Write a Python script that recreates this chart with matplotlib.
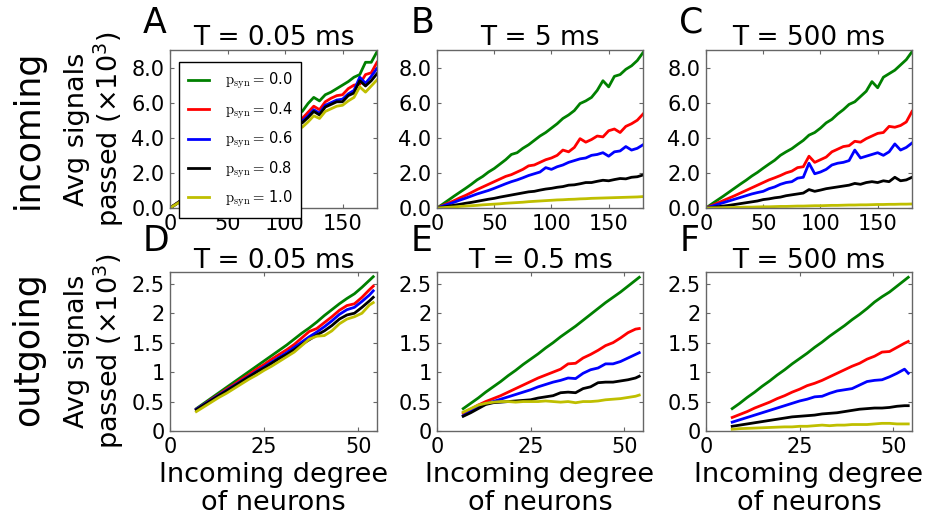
import numpy as np
import matplotlib
matplotlib.use("Agg")
import matplotlib.pyplot as plt
from matplotlib.font_manager import FontProperties
from matplotlib.ticker import FormatStrFormatter, FuncFormatter

# x axes: incoming degree
deg_in = [0, 5, 10, 15, 20, 25, 30, 35, 40, 45, 50, 55, 60, 65, 70, 75, 80, 85, 90,
          95, 100, 105, 110, 115, 120, 125, 130, 135, 140, 145, 150, 155, 160, 165,
          170, 175, 180]
deg_out = [7, 9, 11, 13, 15, 17, 19, 21, 23, 25, 27, 29, 31, 33, 35, 37, 39, 41, 43,
           45, 47, 49, 51, 53, 54]

p_syn = ["0.0", "0.4", "0.6", "0.8", "1.0"]
colors = ["g", "r", "b", "k", "y"]

# A: incoming, T = 0.05 ms  (x1000 signals)
inc_a_00 = [0, 0.23, 0.46, 0.7, 0.93, 1.17, 1.4, 1.63, 1.87, 2.1, 2.35, 2.6, 2.85, 3.1, 3.35,
            3.55, 3.85, 4.05, 4.35, 4.55, 4.85, 5.1, 5.4, 5.5, 5.95, 6.3, 6.1, 6.45, 6.6,
            6.8, 7.0, 7.2, 7.45, 7.6, 8.3, 8.3, 8.9]
inc_a_04 = [0, 0.22, 0.44, 0.67, 0.9, 1.12, 1.34, 1.56, 1.78, 2.0, 2.22, 2.45, 2.68, 2.9, 3.12,
            3.35, 3.6, 3.8, 4.05, 4.25, 4.5, 4.75, 5.05, 5.1, 5.45, 5.8, 5.6, 6.05, 6.25,
            6.4, 6.45, 6.8, 7.0, 7.05, 7.6, 7.7, 8.3]
inc_a_06 = [0, 0.21, 0.43, 0.65, 0.87, 1.09, 1.3, 1.52, 1.74, 1.95, 2.17, 2.4, 2.62, 2.84, 3.05,
            3.27, 3.5, 3.7, 3.95, 4.15, 4.4, 4.6, 4.9, 4.95, 5.25, 5.6, 5.4, 5.85, 6.0,
            6.15, 6.2, 6.5, 6.7, 7.45, 7.1, 7.5, 7.95]
inc_a_08 = [0, 0.21, 0.42, 0.63, 0.85, 1.06, 1.27, 1.48, 1.7, 1.9, 2.12, 2.34, 2.56, 2.77, 2.98,
            3.2, 3.42, 3.62, 3.85, 4.05, 4.3, 4.5, 4.8, 4.85, 5.15, 5.5, 5.3, 5.75, 5.9,
            6.05, 6.05, 6.4, 6.55, 7.25, 6.95, 7.25, 7.65]
inc_a_10 = [0, 0.2, 0.4, 0.6, 0.81, 1.01, 1.21, 1.41, 1.62, 1.82, 2.02, 2.23, 2.44, 2.64, 2.84,
            3.05, 3.25, 3.45, 3.65, 3.85, 4.1, 4.3, 4.55, 4.6, 4.9, 5.25, 5.1, 5.5, 5.65,
            5.8, 5.85, 6.1, 6.3, 6.9, 6.6, 6.95, 7.3]

# B: incoming, T = 5 ms
inc_b_00 = [0, 0.22, 0.45, 0.68, 0.9, 1.12, 1.35, 1.6, 1.8, 2.05, 2.25, 2.5, 2.75, 3.05, 3.15,
            3.4, 3.6, 3.85, 4.1, 4.3, 4.55, 4.8, 5.1, 5.3, 5.55, 5.95, 6.1, 6.3, 6.7,
            7.25, 6.9, 7.5, 7.6, 7.9, 8.1, 8.4, 8.85]
inc_b_04 = [0, 0.14, 0.28, 0.42, 0.58, 0.72, 0.88, 1.05, 1.2, 1.35, 1.5, 1.65, 1.8, 1.9, 2.05,
            2.2, 2.4, 2.45, 2.6, 2.75, 2.85, 3.0, 3.3, 3.2, 3.45, 3.95, 3.75, 3.9, 4.1,
            4.05, 4.4, 4.5, 4.3, 4.65, 4.8, 5.0, 5.35]
inc_b_06 = [0, 0.11, 0.22, 0.33, 0.45, 0.56, 0.68, 0.8, 0.9, 1.0, 1.12, 1.25, 1.38, 1.5, 1.6,
            1.72, 1.85, 1.95, 2.05, 2.3, 2.2, 2.35, 2.45, 2.6, 2.7, 2.8, 2.85, 3.0, 3.05,
            3.15, 2.95, 3.2, 3.25, 3.5, 3.3, 3.4, 3.6]
inc_b_08 = [0, 0.05, 0.1, 0.16, 0.21, 0.27, 0.32, 0.38, 0.44, 0.5, 0.55, 0.62, 0.68, 0.74, 0.8,
            0.86, 0.92, 0.95, 1.02, 1.08, 1.12, 1.18, 1.22, 1.3, 1.32, 1.38, 1.45, 1.45, 1.52,
            1.58, 1.55, 1.62, 1.68, 1.66, 1.75, 1.78, 1.88]
inc_b_10 = [0, 0.02, 0.04, 0.06, 0.09, 0.11, 0.13, 0.15, 0.18, 0.2, 0.22, 0.24, 0.27, 0.29, 0.31,
            0.33, 0.36, 0.38, 0.4, 0.42, 0.44, 0.46, 0.47, 0.49, 0.5, 0.52, 0.53, 0.55, 0.56,
            0.57, 0.58, 0.59, 0.6, 0.61, 0.62, 0.63, 0.65]

# C: incoming, T = 500 ms
inc_c_00 = [0, 0.23, 0.45, 0.67, 0.9, 1.13, 1.36, 1.58, 1.82, 2.03, 2.27, 2.5, 2.72, 3.0, 3.2,
            3.38, 3.62, 3.85, 4.15, 4.3, 4.55, 4.85, 5.05, 5.35, 5.6, 5.9, 6.05, 6.35, 6.65,
            7.2, 6.85, 7.45, 7.65, 7.85, 8.15, 8.45, 8.9]
inc_c_04 = [0, 0.14, 0.28, 0.42, 0.56, 0.7, 0.85, 1.0, 1.15, 1.3, 1.45, 1.6, 1.72, 1.85, 2.0,
            2.1, 2.3, 2.35, 2.95, 2.6, 2.75, 2.9, 3.2, 3.35, 3.5, 3.55, 3.8, 3.75, 3.95,
            4.1, 4.25, 4.3, 4.65, 4.6, 4.7, 4.9, 5.5]
inc_c_06 = [0, 0.1, 0.2, 0.3, 0.4, 0.5, 0.6, 0.7, 0.8, 0.88, 0.95, 1.1, 1.2, 1.35, 1.45,
            1.5, 1.7, 1.75, 2.55, 1.95, 2.05, 2.2, 2.45, 2.55, 2.6, 2.7, 3.3, 2.85, 2.95,
            3.05, 3.15, 3.0, 3.2, 3.65, 3.3, 3.45, 3.7]
inc_c_08 = [0, 0.03, 0.07, 0.11, 0.15, 0.2, 0.25, 0.3, 0.35, 0.4, 0.48, 0.52, 0.58, 0.62, 0.7,
            0.75, 0.8, 0.85, 1.05, 0.95, 1.02, 1.1, 1.15, 1.2, 1.25, 1.3, 1.4, 1.35, 1.45,
            1.5, 1.45, 1.55, 1.5, 1.75, 1.55, 1.6, 1.75]
inc_c_10 = [0, 0.01, 0.01, 0.02, 0.03, 0.03, 0.04, 0.05, 0.05, 0.06, 0.07, 0.07, 0.08, 0.09,
            0.09, 0.1, 0.11, 0.11, 0.12, 0.13, 0.13, 0.14, 0.15, 0.15, 0.16, 0.17, 0.17, 0.18,
            0.18, 0.19, 0.2, 0.2, 0.21, 0.21, 0.22, 0.22, 0.23]

# D: outgoing, T = 0.05 ms
out_d_00 = [0.38, 0.47, 0.56, 0.65, 0.74, 0.83, 0.92, 1.01, 1.1, 1.19, 1.28, 1.37, 1.46, 1.56,
            1.66, 1.75, 1.85, 1.96, 2.06, 2.16, 2.25, 2.33, 2.44, 2.56, 2.62]
out_d_04 = [0.37, 0.45, 0.54, 0.62, 0.71, 0.79, 0.88, 0.96, 1.05, 1.13, 1.22, 1.3, 1.38, 1.47,
            1.58, 1.69, 1.74, 1.84, 1.94, 2.05, 2.13, 2.16, 2.27, 2.4, 2.46]
out_d_06 = [0.37, 0.45, 0.53, 0.61, 0.69, 0.77, 0.85, 0.93, 1.01, 1.09, 1.17, 1.25, 1.33, 1.42,
            1.51, 1.6, 1.68, 1.77, 1.87, 1.98, 2.06, 2.1, 2.2, 2.31, 2.38]
out_d_08 = [0.36, 0.44, 0.52, 0.6, 0.68, 0.76, 0.84, 0.92, 1.0, 1.07, 1.15, 1.23, 1.3, 1.38,
            1.47, 1.55, 1.63, 1.7, 1.79, 1.9, 1.97, 2.0, 2.1, 2.21, 2.27]
out_d_10 = [0.33, 0.41, 0.49, 0.57, 0.64, 0.72, 0.8, 0.88, 0.95, 1.03, 1.1, 1.18, 1.26, 1.34,
            1.45, 1.56, 1.61, 1.62, 1.7, 1.82, 1.9, 1.94, 2.0, 2.14, 2.18]

# E: outgoing, T = 0.5 ms
out_e_00 = [0.38, 0.47, 0.56, 0.66, 0.75, 0.84, 0.94, 1.03, 1.13, 1.22, 1.31, 1.41, 1.5, 1.6,
            1.69, 1.78, 1.88, 1.98, 2.08, 2.18, 2.27, 2.36, 2.46, 2.56, 2.61]
out_e_04 = [0.3, 0.37, 0.44, 0.5, 0.55, 0.6, 0.66, 0.72, 0.78, 0.84, 0.9, 0.95, 1.0, 1.05,
            1.14, 1.15, 1.24, 1.3, 1.37, 1.45, 1.5, 1.58, 1.67, 1.73, 1.74]
out_e_06 = [0.26, 0.33, 0.4, 0.46, 0.5, 0.54, 0.58, 0.62, 0.66, 0.7, 0.75, 0.79, 0.83, 0.86,
            0.9, 0.89, 0.98, 1.04, 1.07, 1.14, 1.14, 1.18, 1.24, 1.3, 1.33]
out_e_08 = [0.25, 0.31, 0.38, 0.45, 0.48, 0.49, 0.5, 0.51, 0.52, 0.53, 0.56, 0.58, 0.6, 0.65,
            0.66, 0.65, 0.72, 0.75, 0.82, 0.83, 0.83, 0.85, 0.87, 0.9, 0.93]
out_e_10 = [0.32, 0.38, 0.44, 0.47, 0.49, 0.5, 0.5, 0.49, 0.5, 0.5, 0.5, 0.51, 0.5, 0.49,
            0.5, 0.48, 0.5, 0.5, 0.51, 0.53, 0.54, 0.55, 0.57, 0.59, 0.61]

# F: outgoing, T = 500 ms
out_f_00 = [0.38, 0.47, 0.57, 0.66, 0.76, 0.85, 0.95, 1.04, 1.14, 1.23, 1.32, 1.42, 1.51, 1.61,
            1.7, 1.79, 1.89, 1.98, 2.08, 2.19, 2.28, 2.36, 2.46, 2.56, 2.61]
out_f_04 = [0.23, 0.28, 0.33, 0.39, 0.44, 0.49, 0.55, 0.6, 0.66, 0.71, 0.77, 0.81, 0.86, 0.92,
            0.98, 1.04, 1.1, 1.15, 1.22, 1.27, 1.34, 1.35, 1.42, 1.49, 1.52]
out_f_06 = [0.15, 0.19, 0.23, 0.27, 0.31, 0.35, 0.39, 0.43, 0.47, 0.51, 0.54, 0.58, 0.59, 0.64,
            0.68, 0.7, 0.72, 0.78, 0.84, 0.86, 0.87, 0.92, 0.98, 1.05, 0.98]
out_f_08 = [0.08, 0.1, 0.12, 0.14, 0.16, 0.18, 0.2, 0.22, 0.24, 0.25, 0.26, 0.27, 0.29, 0.3,
            0.31, 0.33, 0.35, 0.37, 0.38, 0.39, 0.39, 0.4, 0.42, 0.43, 0.43]
out_f_10 = [0.03, 0.04, 0.045, 0.05, 0.055, 0.06, 0.065, 0.07, 0.07, 0.08, 0.08, 0.09, 0.1,
            0.09, 0.1, 0.1, 0.11, 0.11, 0.11, 0.12, 0.13, 0.13, 0.12, 0.12, 0.12]

panels = [
    ("A", "T = 0.05 ms", deg_in, [inc_a_00, inc_a_04, inc_a_06, inc_a_08, inc_a_10]),
    ("B", "T = 5 ms", deg_in, [inc_b_00, inc_b_04, inc_b_06, inc_b_08, inc_b_10]),
    ("C", "T = 500 ms", deg_in, [inc_c_00, inc_c_04, inc_c_06, inc_c_08, inc_c_10]),
    ("D", "T = 0.05 ms", deg_out, [out_d_00, out_d_04, out_d_06, out_d_08, out_d_10]),
    ("E", "T = 0.5 ms", deg_out, [out_e_00, out_e_04, out_e_06, out_e_08, out_e_10]),
    ("F", "T = 500 ms", deg_out, [out_f_00, out_f_04, out_f_06, out_f_08, out_f_10]),
]

W, H = 927, 521
fig = plt.figure(figsize=(W / 100, H / 100), dpi=100)

# axes boxes in pixels (left, right, top, bottom)
cols = [(170, 377), (437, 643), (706, 912)]
rows = [(50, 208), (272, 431)]

for i, (letter, title, xs, series) in enumerate(panels):
    r, c = divmod(i, 3)
    l, rr = cols[c]
    t, b = rows[r]
    ax = fig.add_axes([l / W, 1 - b / H, (rr - l) / W, (b - t) / H])
    for ys, col, p in zip(series, colors, p_syn):
        ax.plot(xs, ys, color=col, lw=2, label=r"$\mathrm{p_{syn}}=\,$" + p)

    if r == 0:
        ax.set_xlim(0, 180)
        ax.set_ylim(0, 9)
        ax.set_xticks([0, 50, 100, 150])
        ax.set_yticks([0, 2, 4, 6, 8])
        ax.yaxis.set_major_formatter(FormatStrFormatter("%.1f"))
        ax.set_title(title, fontsize=19, pad=3.5)
    else:
        ax.set_xlim(0, 55)
        ax.set_ylim(0, 2.7)
        ax.set_xticks([0, 25, 50])
        ax.set_yticks([0, 0.5, 1, 1.5, 2, 2.5])
        ax.yaxis.set_major_formatter(FuncFormatter(lambda v, pos: "%g" % v))
        ax.set_title(title, fontsize=19, pad=3)
        ax.set_xlabel("Incoming degree\nof neurons", fontsize=19.5, linespacing=1.1)

    ax.tick_params(direction="in", top=True, right=True, length=3, width=0.8,
                   color="0.4", labelsize=15, pad=4)
    for s in ax.spines.values():
        s.set_color("0.4")
        s.set_linewidth(1)

    if c == 0:
        ax.set_ylabel("Avg signals\npassed $(\\times10^3)$", fontsize=19.5, linespacing=1.05)

    ax.text(-0.13, 1.11 if r == 0 else 1.13, letter, transform=ax.transAxes,
            fontsize=25, va="baseline", ha="left")

    if i == 0:
        ax.legend(loc="upper left", prop=FontProperties(size=10.5, math_fontfamily="cm"),
                  handlelength=1.4, labelspacing=0.62, fancybox=False, framealpha=1,
                  edgecolor="k", borderpad=0.6, handletextpad=1.1,
                  bbox_to_anchor=(0.01, 0.97))

fig.text(28 / W, 1 - 129 / H, "incoming", rotation=90, fontsize=25,
         ha="center", va="center")
fig.text(28 / W, 1 - 349 / H, "outgoing", rotation=90, fontsize=25,
         ha="center", va="center")

fig.savefig("out.png", dpi=100, facecolor="white")
